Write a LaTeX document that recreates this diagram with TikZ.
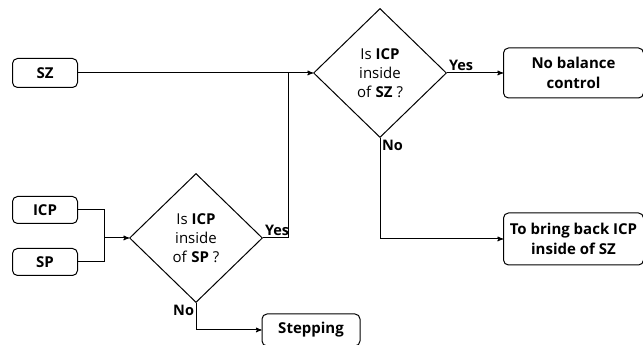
\documentclass[tikz,border=0pt]{standalone}
\usepackage{fontspec}
\setmainfont{Open Sans}
\usetikzlibrary{arrows,positioning,shapes.geometric}

\tikzset{
  box/.style={draw, rounded corners=5pt, minimum width=65pt, minimum height=29pt,
              font=\fontsize{15}{19.5}\selectfont\bfseries, align=center, inner sep=1pt},
  decision/.style={draw, diamond, minimum width=133pt, minimum height=129pt,
              inner sep=0pt, align=center, font=\fontsize{15}{19}\selectfont},
  lbl/.style={font=\fontsize{14.5}{16}\selectfont\bfseries, inner sep=1.5pt},
}

\begin{document}
\begin{tikzpicture}[x=1pt,y=1pt,>=stealth',line width=1pt]
\useasboundingbox (0,0) rectangle (643,345);

            \node[box] (sz) at (45,272) {SZ};

            \node[decision] (q1) at (380,272) {Is \textbf{ICP}\\inside\\of \textbf{SZ} ?};

            \node[box,minimum width=140pt,minimum height=50pt] (nobal) [right=56pt of q1] {No balance\\control};

            \node[box,minimum width=140pt,minimum height=52pt] (ret) [below=114pt of nobal] {To bring back ICP\\inside of SZ};

            \node[box,minimum height=27pt] (icp) at (45,135) {ICP};

            \node[box,minimum height=27pt] (sp) [below=24pt of icp] {SP};

            \node[decision] (q2) at (196,107) {Is \textbf{ICP}\\inside\\of \textbf{SP} ?};

            \node[box,minimum width=98pt,minimum height=32pt] (step) at (311,15) {Stepping};

            \coordinate[left=25pt of q2.west] (jn);

            \coordinate[left=25pt of q1.west] (mg);

            % answers
            \node[lbl,above right] (yes1) at (q1.east) {Yes};

            \node[lbl,below right] (no1) at (q1.south) {No};

            \node[lbl,above right] (yes2) at (q2.east) {Yes};

            \node[lbl,below left] (no2) at (q2.south) {No};

            

            \draw[->] (sz) -- (q1);

            \draw (icp) -| (jn) (sp) -| (jn);

            \draw[->] (jn) -- (q2);

            \draw (q2.east) -| (mg);

            \draw[->] (q1) -- (nobal);

            \draw[->] (q1.south) |- (ret);

            \draw[->] (q2.south) |- (step);

        \end{tikzpicture}
\end{document}
